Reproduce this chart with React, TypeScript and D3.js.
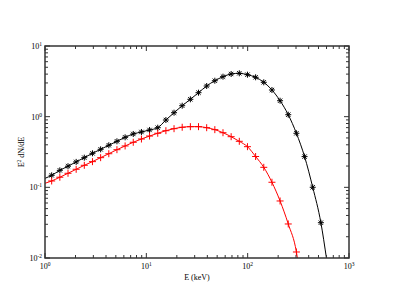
import React from "react";
import * as d3 from "d3";

const energies = [1.164, 1.401, 1.687, 2.03, 2.443, 2.941, 3.54, 4.262, 5.129, 6.174, 7.43, 8.944, 10.76, 12.96, 15.6, 18.77, 22.59, 27.2, 32.73, 39.4, 47.42, 57.09, 68.71, 82.7, 99.54, 119.8, 144.2, 173.6, 208.9, 251.5, 302.7, 364.4, 438.5, 527.8];
const blackValues = [0.148, 0.174, 0.199, 0.229, 0.263, 0.303, 0.345, 0.394, 0.448, 0.51, 0.569, 0.607, 0.648, 0.698, 0.897, 1.138, 1.429, 1.761, 2.184, 2.716, 3.226, 3.68, 4.017, 4.11, 3.927, 3.608, 3.064, 2.385, 1.681, 1.066, 0.582, 0.272, 0.1002, 0.0316];
const redValues = [0.123, 0.139, 0.158, 0.18, 0.205, 0.231, 0.263, 0.299, 0.341, 0.385, 0.434, 0.483, 0.532, 0.582, 0.633, 0.676, 0.708, 0.722, 0.722, 0.698, 0.655, 0.593, 0.521, 0.448, 0.376, 0.273, 0.192, 0.118, 0.0641, 0.0303, 0.01216];
// line end points beyond the markers
const blackLineStart = { e: 1, v: 0.134 };
const blackLineEnd = { e: 600, v: 0.0098 };
const redLineStart = { e: 1, v: 0.114 };
const redLineEnd = { e: 312, v: 0.0093 };

const xDecades = [1, 10, 100, 1000];
const yDecades = [0.01, 0.1, 1, 10];
const xExp = ["0", "1", "2", "3"];
const yExp = ["-2", "-1", "0", "1"];
const xTitle = "E (keV)";

const W = 393, H = 304;
const L = 45, R = 349, T = 46, B = 258;
const FONT = "'Liberation Serif', 'DejaVu Serif', serif";

export default function App() {
  const x = d3.scaleLog().domain([1, 1000]).range([L, R]);
  const y = d3.scaleLog().domain([0.01, 10]).range([B, T]);

  const blackPts = energies.map((e, i) => ({ e, v: blackValues[i] }));
  const redPts = redValues.map((v, i) => ({ e: energies[i], v }));

  const line = d3
    .line<{ e: number; v: number }>()
    .x((d) => x(d.e))
    .y((d) => y(d.v))
    .curve(d3.curveMonotoneX);

  const blackLine = line([blackLineStart, ...blackPts, blackLineEnd]) || "";
  const redLine = line([redLineStart, ...redPts, redLineEnd]) || "";

  const minorX: number[] = [];
  [1, 10, 100].forEach((d) => {
    for (let k = 2; k <= 9; k++) minorX.push(d * k);
  });
  const minorY: number[] = [];
  [0.01, 0.1, 1].forEach((d) => {
    for (let k = 2; k <= 9; k++) minorY.push(d * k);
  });

  const axisColor = "#333";
  const majorLen = 5;
  const minorLen = 3;
  const s = 3;
  const r = 3.5;

  return (
    <svg width={W} height={H} style={{ position: "absolute", left: 0, top: 0, background: "#fff" }}>
      <defs>
        <clipPath id="plotclip">
          <rect x={L} y={T} width={R - L} height={B - T} />
        </clipPath>
      </defs>
      <g clipPath="url(#plotclip)">
        <path d={blackLine} fill="none" stroke="#000" strokeWidth={1} />
        <path d={redLine} fill="none" stroke="#ff0000" strokeWidth={1} />
        {blackPts.map((p, i) => {
          const cx = x(p.e), cy = y(p.v);
          return (
            <g key={"b" + i} stroke="#000" strokeWidth={1}>
              <line x1={cx - s} y1={cy} x2={cx + s} y2={cy} />
              <line x1={cx} y1={cy - s} x2={cx} y2={cy + s} />
              <line x1={cx - s * 0.72} y1={cy - s * 0.72} x2={cx + s * 0.72} y2={cy + s * 0.72} />
              <line x1={cx - s * 0.72} y1={cy + s * 0.72} x2={cx + s * 0.72} y2={cy - s * 0.72} />
            </g>
          );
        })}
        {redPts.map((p, i) => {
          const cx = x(p.e), cy = y(p.v);
          return (
            <g key={"r" + i} stroke="#ff0000" strokeWidth={1}>
              <line x1={cx - r} y1={cy} x2={cx + r} y2={cy} />
              <line x1={cx} y1={cy - r} x2={cx} y2={cy + r} />
            </g>
          );
        })}
      </g>
      {/* frame */}
      <rect x={L} y={T} width={R - L} height={B - T} fill="none" stroke={axisColor} strokeWidth={1.5} />
      {/* x ticks */}
      {xDecades.map((d, i) => (
        <g key={"xm" + i} stroke={axisColor} strokeWidth={1}>
          <line x1={x(d)} x2={x(d)} y1={B} y2={B - majorLen} />
          <line x1={x(d)} x2={x(d)} y1={T} y2={T + majorLen} />
        </g>
      ))}
      {minorX.map((d, i) => (
        <g key={"xn" + i} stroke={axisColor} strokeWidth={1}>
          <line x1={x(d)} x2={x(d)} y1={B} y2={B - minorLen} />
          <line x1={x(d)} x2={x(d)} y1={T} y2={T + minorLen} />
        </g>
      ))}
      {yDecades.map((d, i) => (
        <g key={"ym" + i} stroke={axisColor} strokeWidth={1}>
          <line x1={L} x2={L + majorLen} y1={y(d)} y2={y(d)} />
          <line x1={R} x2={R - majorLen} y1={y(d)} y2={y(d)} />
        </g>
      ))}
      {minorY.map((d, i) => (
        <g key={"yn" + i} stroke={axisColor} strokeWidth={1}>
          <line x1={L} x2={L + minorLen} y1={y(d)} y2={y(d)} />
          <line x1={R} x2={R - minorLen} y1={y(d)} y2={y(d)} />
        </g>
      ))}
      {/* x tick labels */}
      {xDecades.map((d, i) => (
        <text key={"xl" + i} x={x(d)} y={B + 11} textAnchor="middle" fontFamily={FONT} fontSize={8} fill="#000">
          10<tspan dy={-3} fontSize={5.5}>{xExp[i]}</tspan>
        </text>
      ))}
      {/* y tick labels */}
      {yDecades.map((d, i) => (
        <text key={"yl" + i} x={L - 3} y={y(d) + 3} textAnchor="end" fontFamily={FONT} fontSize={8} fill="#000">
          10<tspan dy={-3} fontSize={5.5}>{yExp[i]}</tspan>
        </text>
      ))}
      <text x={(L + R) / 2} y={B + 22} textAnchor="middle" fontFamily={FONT} fontSize={8} fill="#000">
        {xTitle}
      </text>
      <text transform={`translate(${L - 21},${(T + B) / 2}) rotate(-90)`} textAnchor="middle" fontFamily={FONT} fontSize={8} fill="#000">
        E<tspan dy={-3} fontSize={5.5}>2</tspan>
        <tspan dy={3}> dN/dE</tspan>
      </text>
    </svg>
  );
}
